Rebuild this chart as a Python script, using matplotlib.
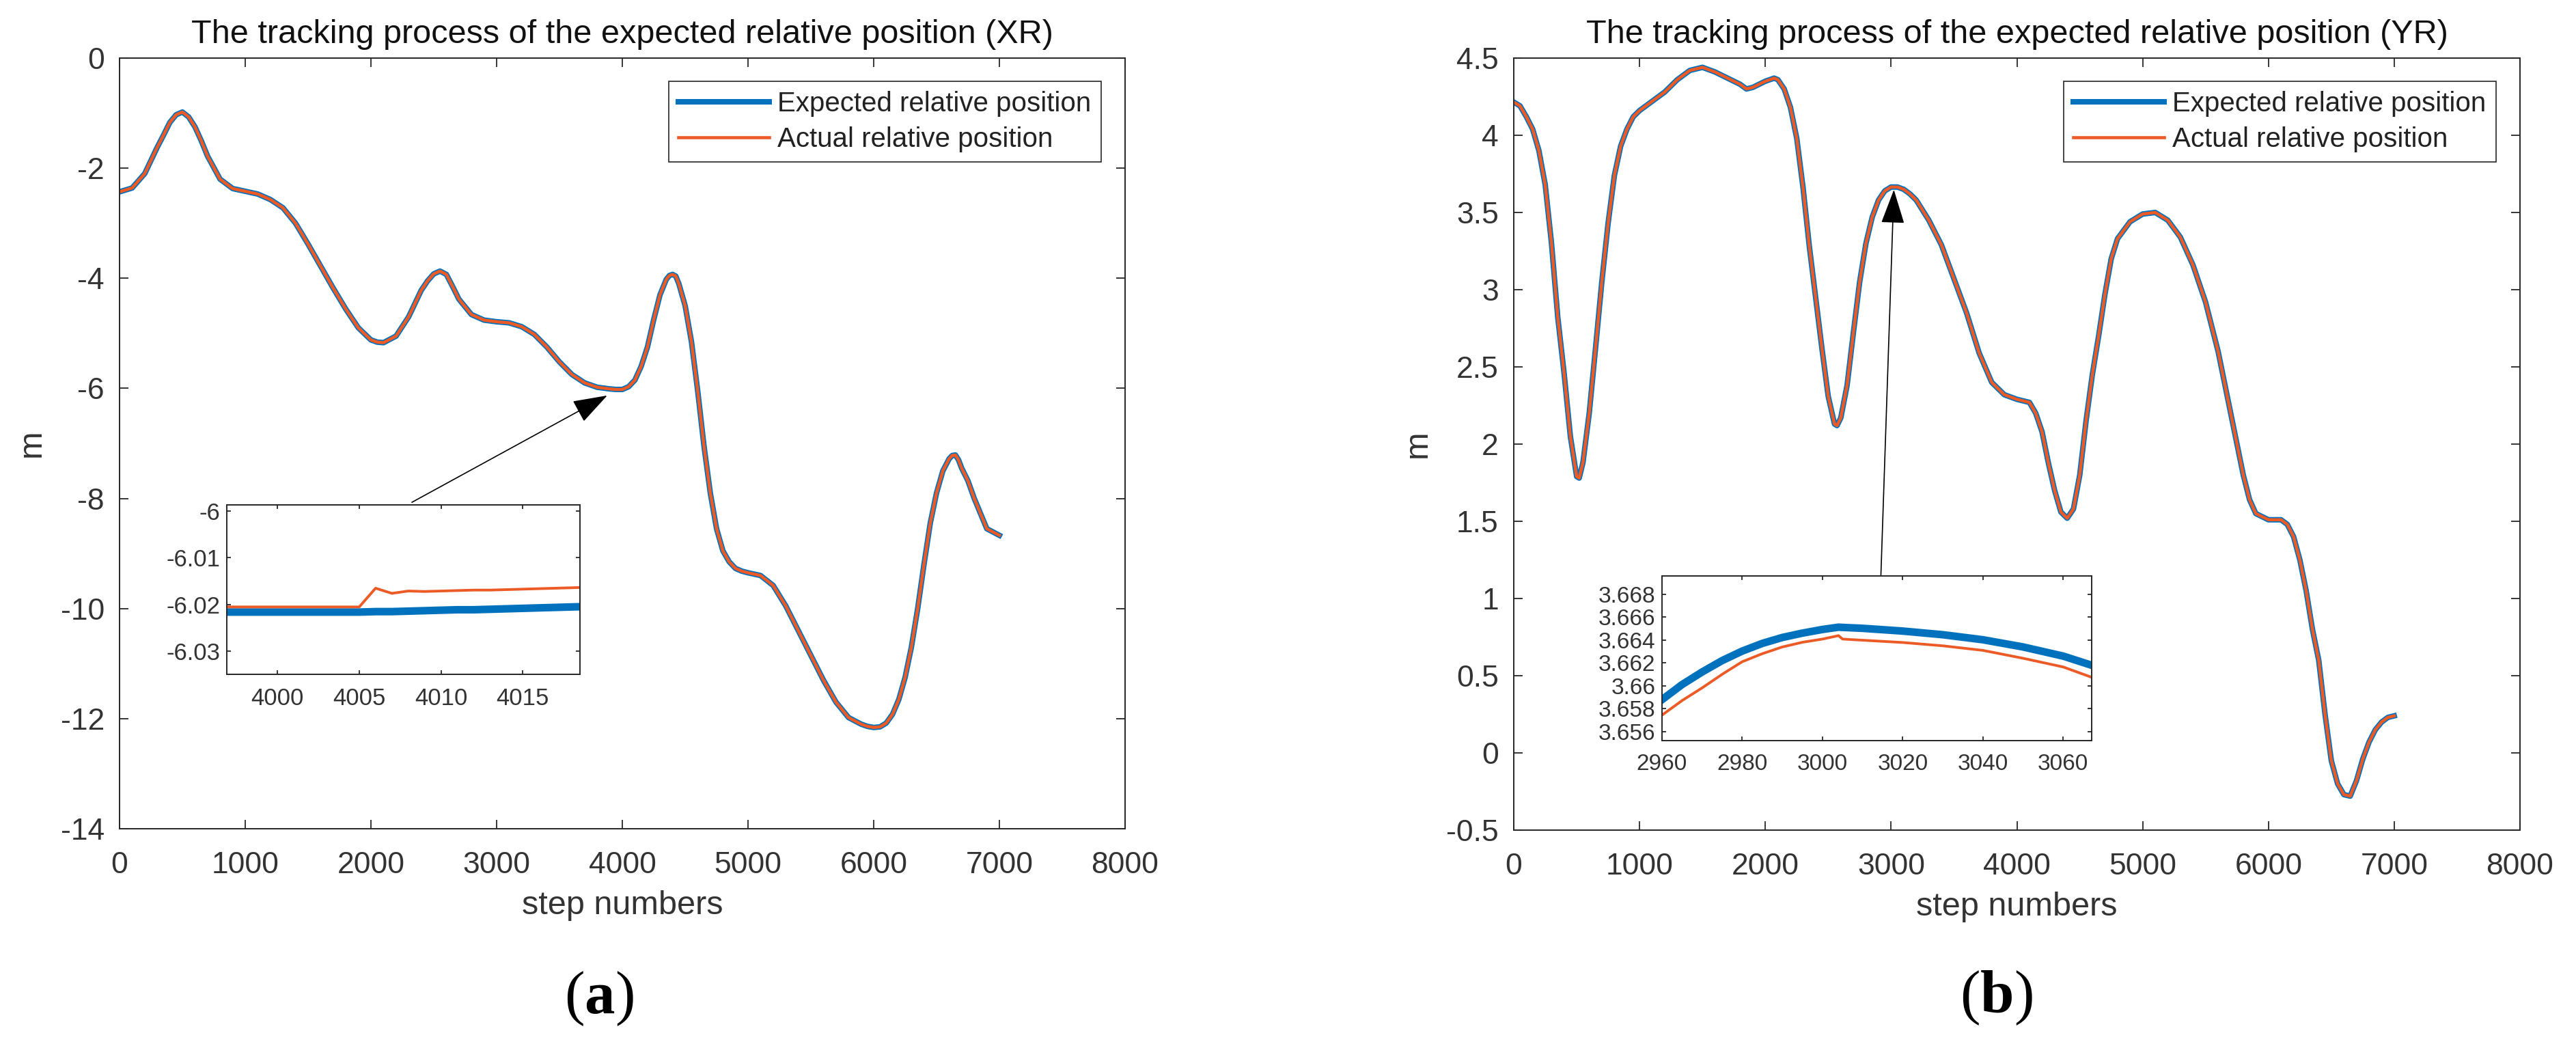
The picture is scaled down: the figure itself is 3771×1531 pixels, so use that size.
import matplotlib
matplotlib.use("Agg")
import matplotlib.pyplot as plt
from matplotlib.ticker import FuncFormatter, FixedLocator

plt.rcParams['font.family'] = ['Liberation Sans', 'DejaVu Sans']
plt.rcParams['axes.unicode_minus'] = False
plt.rcParams['mathtext.fontset'] = 'custom'
plt.rcParams['mathtext.rm'] = 'Liberation Serif'
plt.rcParams['mathtext.bf'] = 'Liberation Serif:bold'

# ---------------- data ----------------
xr_steps = [0, 100, 200, 300, 350, 400, 450, 500, 550, 600, 650, 700, 800, 900, 1000,
            1100, 1200, 1300, 1400, 1500, 1600, 1700, 1800, 1900, 2000, 2050, 2100, 2200,
            2300, 2400, 2450, 2500, 2550, 2600, 2650, 2700, 2800, 2900, 3000, 3100, 3200,
            3300, 3400, 3500, 3600, 3700, 3800, 3900, 3950, 4000, 4050, 4100, 4150, 4200,
            4250, 4300, 4350, 4375, 4400, 4425, 4450, 4500, 4550, 4600, 4650, 4700, 4750,
            4800, 4850, 4900, 4950, 5000, 5100, 5200, 5300, 5400, 5500, 5600, 5700, 5800,
            5900, 5950, 6000, 6050, 6100, 6150, 6200, 6250, 6300, 6350, 6400, 6450, 6500,
            6550, 6600, 6625, 6650, 6675, 6700, 6750, 6800, 6900, 7000]
xr_expected = [-2.43, -2.36, -2.10, -1.62, -1.40, -1.17, -1.03, -0.98, -1.07, -1.25, -1.50,
               -1.78, -2.20, -2.37, -2.42, -2.47, -2.57, -2.72, -3.00, -3.38, -3.78, -4.18,
               -4.56, -4.90, -5.12, -5.16, -5.17, -5.05, -4.70, -4.22, -4.05, -3.92, -3.87,
               -3.93, -4.15, -4.38, -4.66, -4.76, -4.79, -4.81, -4.88, -5.02, -5.25, -5.52,
               -5.75, -5.90, -5.98, -6.01, -6.02, -6.02, -5.97, -5.85, -5.60, -5.25, -4.75,
               -4.30, -4.02, -3.95, -3.93, -3.96, -4.10, -4.50, -5.15, -6.05, -7.05, -7.90,
               -8.55, -8.95, -9.15, -9.27, -9.32, -9.35, -9.40, -9.58, -9.95, -10.40,
               -10.85, -11.30, -11.70, -11.98, -12.10, -12.14, -12.16, -12.15, -12.08,
               -11.92, -11.65, -11.25, -10.70, -10.00, -9.20, -8.45, -7.90, -7.50, -7.28,
               -7.22, -7.21, -7.30, -7.45, -7.68, -8.00, -8.55, -8.67]
xr_actual = list(xr_expected)   # coincides with the expected curve at this scale

yr_steps = [0, 50, 100, 150, 200, 250, 300, 350, 400, 450, 500, 520, 550, 600, 650, 700,
            750, 800, 850, 900, 950, 1000, 1100, 1200, 1300, 1400, 1500, 1600, 1700, 1800,
            1850, 1900, 2000, 2070, 2100, 2150, 2200, 2250, 2300, 2350, 2400, 2450, 2500,
            2550, 2570, 2600, 2650, 2700, 2750, 2800, 2850, 2900, 2950, 3000, 3050, 3100,
            3150, 3200, 3300, 3400, 3500, 3600, 3700, 3800, 3900, 4000, 4100, 4150, 4200,
            4250, 4300, 4350, 4400, 4450, 4500, 4550, 4600, 4650, 4700, 4750, 4800, 4900,
            5000, 5100, 5200, 5300, 5400, 5500, 5600, 5700, 5800, 5850, 5900, 6000, 6100,
            6150, 6200, 6250, 6300, 6350, 6400, 6450, 6500, 6550, 6600, 6650, 6700, 6750,
            6800, 6850, 6900, 6950, 7000]
yr_expected = [4.215, 4.19, 4.12, 4.04, 3.90, 3.68, 3.30, 2.82, 2.46, 2.05, 1.79, 1.78,
               1.88, 2.20, 2.62, 3.05, 3.43, 3.74, 3.93, 4.04, 4.12, 4.16, 4.22, 4.28,
               4.36, 4.42, 4.44, 4.41, 4.37, 4.33, 4.30, 4.31, 4.35, 4.37, 4.36, 4.30,
               4.18, 3.98, 3.66, 3.28, 2.95, 2.62, 2.31, 2.13, 2.12, 2.17, 2.38, 2.72,
               3.05, 3.30, 3.47, 3.58, 3.64, 3.665, 3.665, 3.65, 3.62, 3.58, 3.45, 3.29,
               3.07, 2.85, 2.59, 2.40, 2.32, 2.29, 2.27, 2.20, 2.08, 1.88, 1.70, 1.56,
               1.52, 1.58, 1.80, 2.15, 2.45, 2.70, 2.97, 3.20, 3.33, 3.44, 3.49, 3.50,
               3.45, 3.34, 3.16, 2.92, 2.60, 2.20, 1.80, 1.64, 1.55, 1.51, 1.51, 1.48,
               1.40, 1.25, 1.05, 0.80, 0.60, 0.25, -0.05, -0.20, -0.27, -0.28, -0.18,
               -0.04, 0.07, 0.15, 0.20, 0.23, 0.24]
yr_actual = list(yr_expected)   # coincides with the expected curve at this scale

# zoomed detail (inset a)
xa_steps = [3996, 3997, 3998, 3999, 4000, 4001, 4002, 4003, 4004, 4005, 4006, 4007, 4008,
            4009, 4010, 4011, 4012, 4013, 4014, 4015, 4016, 4017, 4018, 4019]
xa_expected = [-6.0216, -6.0216, -6.0216, -6.0216, -6.0216, -6.0216, -6.0216, -6.0216,
               -6.0216, -6.0216, -6.0215, -6.0215, -6.0214, -6.0213, -6.0212, -6.0211,
               -6.0211, -6.0210, -6.0209, -6.0208, -6.0207, -6.0206, -6.0205, -6.0204]
xa_actual = [-6.0205, -6.0205, -6.0205, -6.0205, -6.0205, -6.0205, -6.0205, -6.0205,
             -6.0205, -6.0205, -6.0165, -6.0176, -6.0171, -6.0172, -6.0171, -6.0170,
             -6.0169, -6.0169, -6.0168, -6.0167, -6.0166, -6.0165, -6.0164, -6.0163]

# zoomed detail (inset b)
yb_steps = [2960, 2965, 2970, 2975, 2980, 2985, 2990, 2995, 3000, 3004, 3005, 3010, 3020,
            3030, 3040, 3050, 3060, 3067]
yb_expected = [3.65878, 3.66010, 3.66120, 3.66220, 3.66303, 3.66370, 3.66422, 3.66460,
               3.66492, 3.66512, 3.66510, 3.66502, 3.66478, 3.66446, 3.66402, 3.66339,
               3.66259, 3.66180]
yb_actual = [3.65743, 3.65870, 3.65981, 3.66100, 3.66210, 3.66280, 3.66339, 3.66380,
             3.66408, 3.66438, 3.66408, 3.66398, 3.66378, 3.66349, 3.66309, 3.66240,
             3.66164, 3.66075]

x_ticks = [0, 1000, 2000, 3000, 4000, 5000, 6000, 7000, 8000]
xr_yticks = [0, -2, -4, -6, -8, -10, -12, -14]
yr_yticks = [-0.5, 0, 0.5, 1, 1.5, 2, 2.5, 3, 3.5, 4, 4.5]
xa_xticks = [4000, 4005, 4010, 4015]
xa_yticks = [-6.0, -6.01, -6.02, -6.03]
yb_xticks = [2960, 2980, 3000, 3020, 3040, 3060]
yb_yticks = [3.656, 3.658, 3.66, 3.662, 3.664, 3.666, 3.668]

titles = ["The tracking process of the expected relative position (XR)",
          "The tracking process of the expected relative position (YR)"]
legend_labels = ["Expected relative position", "Actual relative position"]
panel_labels = [r"($\mathbf{a}$)", r"($\mathbf{b}$)"]

# ---------------- style ----------------
BLUE = '#0072BD'
ORANGE = '#EC5A26'
AXC = '#262626'
W, H = 3771, 1531
fig = plt.figure(figsize=(W / 100, H / 100), dpi=100)
fig.patch.set_facecolor('white')

gfmt = FuncFormatter(lambda v, p: '%g' % round(v, 6))


def style_axes(ax, fs, ticklen, xpad, ypad):
    for s in ax.spines.values():
        s.set_color(AXC)
        s.set_linewidth(1.4)
    ax.tick_params(direction='in', top=True, right=True, length=ticklen, width=1.3,
                   colors=AXC, labelsize=fs, labelcolor='#333333')
    ax.tick_params(axis='x', pad=xpad)
    ax.tick_params(axis='y', pad=ypad)
    ax.xaxis.set_major_formatter(gfmt)
    ax.yaxis.set_major_formatter(gfmt)


def main_panel(rect, sx, ye, ya, yticks, ylim, title):
    ax = fig.add_axes(rect)
    ax.plot(sx, ye, color=BLUE, lw=5.8, label=legend_labels[0])
    ax.plot(sx, ya, color=ORANGE, lw=3.3, label=legend_labels[1])
    ax.set_xlim(0, 8000)
    ax.set_ylim(*ylim)
    ax.xaxis.set_major_locator(FixedLocator(x_ticks))
    ax.yaxis.set_major_locator(FixedLocator(yticks))
    style_axes(ax, 32, 9.5, 24, 16)
    ax.set_title(title, fontsize=35, pad=16, color='#111111')
    ax.set_xlabel('step numbers', fontsize=35, labelpad=11, color='#333333')
    ax.set_ylabel('m', fontsize=35, labelpad=14, color='#333333')
    leg = ax.legend(loc='upper right', bbox_to_anchor=(0.976, 0.970), borderaxespad=0,
                    fontsize=29, handlelength=3.3, handletextpad=0.3, borderpad=0.35,
                    labelspacing=0.35, fancybox=False, framealpha=1, edgecolor=AXC)
    leg.get_frame().set_linewidth(1.2)
    for t in leg.get_texts():
        t.set_color('#222222')
    return ax


def inset(rect, sx, ye, ya, xticks, yticks, xlim, ylim, fs):
    ax = fig.add_axes(rect)
    ax.plot(sx, ye, color=BLUE, lw=8)
    ax.plot(sx, ya, color=ORANGE, lw=2.8)
    ax.set_xlim(*xlim)
    ax.set_ylim(*ylim)
    ax.xaxis.set_major_locator(FixedLocator(xticks))
    ax.yaxis.set_major_locator(FixedLocator(yticks))
    style_axes(ax, fs, 4, 14, 7)
    return ax


ax1 = main_panel([175 / W, 1 - 1213 / H, 1472 / W, 1128 / H], xr_steps, xr_expected,
                 xr_actual, xr_yticks, (-14, 0), titles[0])
ax2 = main_panel([2216 / W, 1 - 1215 / H, 1473 / W, 1130 / H], yr_steps, yr_expected,
                 yr_actual, yr_yticks, (-0.5, 4.5), titles[1])

arrow = dict(arrowstyle='-|>,head_length=1.6,head_width=0.55', color='black', lw=1.2,
             shrinkA=0, shrinkB=0, mutation_scale=20)
ax1.annotate('', xy=(3880, -6.13), xytext=(2326, -8.07), arrowprops=arrow)
ax2.annotate('', xy=(3022, 3.647), xytext=(2919, 1.153), arrowprops=arrow)

inset([332 / W, 1 - 987 / H, 517 / W, 248 / H], xa_steps, xa_expected, xa_actual,
      xa_xticks, xa_yticks, (3996.9, 4018.5), (-6.0349, -5.9987), 25)
inset([2433 / W, 1 - 1084 / H, 629 / W, 241 / H], yb_steps, yb_expected, yb_actual,
      yb_xticks, yb_yticks, (2960, 3067.1), (3.6552, 3.6696), 24)

fig.text(877 / W, 1 - 1462 / H, panel_labels[0], fontsize=64, ha='center', va='center',
         family='Liberation Serif')
fig.text(2922 / W, 1 - 1461 / H, panel_labels[1], fontsize=64, ha='center', va='center',
         family='Liberation Serif')

fig.savefig('out.png', dpi=100, facecolor='white')
